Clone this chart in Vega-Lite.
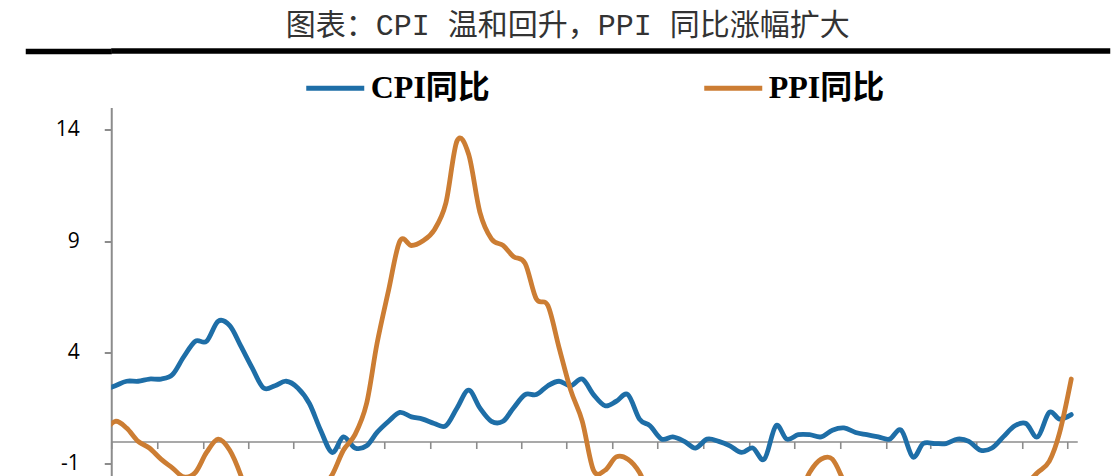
{
  "$schema": "https://vega.github.io/schema/vega-lite/v6.json",
  "padding": {"left": 22.25, "top": 11, "right": 9, "bottom": 0},
  "columns": 1,
  "align": "none",
  "spacing": 53.5,
  "config": {"view": {"stroke": null}},
  "concat": [
    {
      "width": 999,
      "height": 6,
      "title": {
        "text": "图表：CPI 温和回升，PPI 同比涨幅扩大",
        "font": "Liberation Mono, Noto Sans CJK SC",
        "fontSize": 30,
        "fontWeight": "normal",
        "color": "#333333",
        "anchor": "middle",
        "frame": "bounds",
        "baseline": "alphabetic",
        "offset": -17
      },
      "data": {"values": [{}]},
      "mark": {"type": "rule", "color": "#000000", "strokeWidth": 5.5},
      "encoding": {
        "y": {
          "datum": 0,
          "type": "quantitative",
          "scale": {"domain": [-1, 1]},
          "axis": {
            "title": null,
            "values": [0],
            "labels": false,
            "domain": false,
            "grid": false,
            "tickSize": 86,
            "tickColor": "#000000",
            "tickWidth": 5.5,
            "tickCap": "butt"
          }
        }
      }
    },
    {
      "width": 966,
      "height": 369,
      "data": {
        "values": [
          {"date": "2019-03-01", "CPI同比": 2.3, "PPI同比": 0.4},
          {"date": "2019-04-01", "CPI同比": 2.5, "PPI同比": 0.9},
          {"date": "2019-05-01", "CPI同比": 2.7, "PPI同比": 0.6},
          {"date": "2019-06-01", "CPI同比": 2.7, "PPI同比": 0.0},
          {"date": "2019-07-01", "CPI同比": 2.8, "PPI同比": -0.3},
          {"date": "2019-08-01", "CPI同比": 2.8, "PPI同比": -0.8},
          {"date": "2019-09-01", "CPI同比": 3.0, "PPI同比": -1.2},
          {"date": "2019-10-01", "CPI同比": 3.8, "PPI同比": -1.6},
          {"date": "2019-11-01", "CPI同比": 4.5, "PPI同比": -1.4},
          {"date": "2019-12-01", "CPI同比": 4.5, "PPI同比": -0.5},
          {"date": "2020-01-01", "CPI同比": 5.4, "PPI同比": 0.1},
          {"date": "2020-02-01", "CPI同比": 5.2, "PPI同比": -0.4},
          {"date": "2020-03-01", "CPI同比": 4.3, "PPI同比": -1.5},
          {"date": "2020-04-01", "CPI同比": 3.3, "PPI同比": -3.1},
          {"date": "2020-05-01", "CPI同比": 2.4, "PPI同比": -3.7},
          {"date": "2020-06-01", "CPI同比": 2.5, "PPI同比": -3.0},
          {"date": "2020-07-01", "CPI同比": 2.7, "PPI同比": -2.4},
          {"date": "2020-08-01", "CPI同比": 2.4, "PPI同比": -2.0},
          {"date": "2020-09-01", "CPI同比": 1.7, "PPI同比": -2.1},
          {"date": "2020-10-01", "CPI同比": 0.5, "PPI同比": -2.1},
          {"date": "2020-11-01", "CPI同比": -0.5, "PPI同比": -1.5},
          {"date": "2020-12-01", "CPI同比": 0.2, "PPI同比": -0.4},
          {"date": "2021-01-01", "CPI同比": -0.3, "PPI同比": 0.3},
          {"date": "2021-02-01", "CPI同比": -0.2, "PPI同比": 1.7},
          {"date": "2021-03-01", "CPI同比": 0.4, "PPI同比": 4.4},
          {"date": "2021-04-01", "CPI同比": 0.9, "PPI同比": 6.8},
          {"date": "2021-05-01", "CPI同比": 1.3, "PPI同比": 9.0},
          {"date": "2021-06-01", "CPI同比": 1.1, "PPI同比": 8.8},
          {"date": "2021-07-01", "CPI同比": 1.0, "PPI同比": 9.0},
          {"date": "2021-08-01", "CPI同比": 0.8, "PPI同比": 9.5},
          {"date": "2021-09-01", "CPI同比": 0.7, "PPI同比": 10.7},
          {"date": "2021-10-01", "CPI同比": 1.5, "PPI同比": 13.5},
          {"date": "2021-11-01", "CPI同比": 2.3, "PPI同比": 12.9},
          {"date": "2021-12-01", "CPI同比": 1.5, "PPI同比": 10.3},
          {"date": "2022-01-01", "CPI同比": 0.9, "PPI同比": 9.1},
          {"date": "2022-02-01", "CPI同比": 0.9, "PPI同比": 8.8},
          {"date": "2022-03-01", "CPI同比": 1.5, "PPI同比": 8.3},
          {"date": "2022-04-01", "CPI同比": 2.1, "PPI同比": 8.0},
          {"date": "2022-05-01", "CPI同比": 2.1, "PPI同比": 6.4},
          {"date": "2022-06-01", "CPI同比": 2.5, "PPI同比": 6.1},
          {"date": "2022-07-01", "CPI同比": 2.7, "PPI同比": 4.2},
          {"date": "2022-08-01", "CPI同比": 2.5, "PPI同比": 2.3},
          {"date": "2022-09-01", "CPI同比": 2.8, "PPI同比": 0.9},
          {"date": "2022-10-01", "CPI同比": 2.1, "PPI同比": -1.3},
          {"date": "2022-11-01", "CPI同比": 1.6, "PPI同比": -1.3},
          {"date": "2022-12-01", "CPI同比": 1.8, "PPI同比": -0.7},
          {"date": "2023-01-01", "CPI同比": 2.1, "PPI同比": -0.8},
          {"date": "2023-02-01", "CPI同比": 1.0, "PPI同比": -1.4},
          {"date": "2023-03-01", "CPI同比": 0.7, "PPI同比": -2.5},
          {"date": "2023-04-01", "CPI同比": 0.1, "PPI同比": -3.6},
          {"date": "2023-05-01", "CPI同比": 0.2, "PPI同比": -4.6},
          {"date": "2023-06-01", "CPI同比": 0.0, "PPI同比": -5.4},
          {"date": "2023-07-01", "CPI同比": -0.3, "PPI同比": -4.4},
          {"date": "2023-08-01", "CPI同比": 0.1, "PPI同比": -3.0},
          {"date": "2023-09-01", "CPI同比": 0.0, "PPI同比": -2.5},
          {"date": "2023-10-01", "CPI同比": -0.2, "PPI同比": -2.6},
          {"date": "2023-11-01", "CPI同比": -0.5, "PPI同比": -3.0},
          {"date": "2023-12-01", "CPI同比": -0.3, "PPI同比": -2.7},
          {"date": "2024-01-01", "CPI同比": -0.8, "PPI同比": -2.5},
          {"date": "2024-02-01", "CPI同比": 0.7, "PPI同比": -2.7},
          {"date": "2024-03-01", "CPI同比": 0.1, "PPI同比": -2.8},
          {"date": "2024-04-01", "CPI同比": 0.3, "PPI同比": -2.5},
          {"date": "2024-05-01", "CPI同比": 0.3, "PPI同比": -1.4},
          {"date": "2024-06-01", "CPI同比": 0.2, "PPI同比": -0.8},
          {"date": "2024-07-01", "CPI同比": 0.5, "PPI同比": -0.8},
          {"date": "2024-08-01", "CPI同比": 0.6, "PPI同比": -1.8},
          {"date": "2024-09-01", "CPI同比": 0.4, "PPI同比": -2.8},
          {"date": "2024-10-01", "CPI同比": 0.3, "PPI同比": -2.9},
          {"date": "2024-11-01", "CPI同比": 0.2, "PPI同比": -2.5},
          {"date": "2024-12-01", "CPI同比": 0.1, "PPI同比": -2.3},
          {"date": "2025-01-01", "CPI同比": 0.5, "PPI同比": -2.3},
          {"date": "2025-02-01", "CPI同比": -0.7, "PPI同比": -2.2},
          {"date": "2025-03-01", "CPI同比": -0.1, "PPI同比": -2.5},
          {"date": "2025-04-01", "CPI同比": -0.1, "PPI同比": -2.7},
          {"date": "2025-05-01", "CPI同比": -0.1, "PPI同比": -3.3},
          {"date": "2025-06-01", "CPI同比": 0.1, "PPI同比": -3.6},
          {"date": "2025-07-01", "CPI同比": 0.0, "PPI同比": -3.6},
          {"date": "2025-08-01", "CPI同比": -0.4, "PPI同比": -2.9},
          {"date": "2025-09-01", "CPI同比": -0.3, "PPI同比": -2.3},
          {"date": "2025-10-01", "CPI同比": 0.2, "PPI同比": -2.1},
          {"date": "2025-11-01", "CPI同比": 0.7, "PPI同比": -2.2},
          {"date": "2025-12-01", "CPI同比": 0.8, "PPI同比": -1.9},
          {"date": "2026-01-01", "CPI同比": 0.2, "PPI同比": -1.4},
          {"date": "2026-02-01", "CPI同比": 1.3, "PPI同比": -0.9},
          {"date": "2026-03-01", "CPI同比": 1.0, "PPI同比": 0.4},
          {"date": "2026-04-01", "CPI同比": 1.2, "PPI同比": 2.8}
        ]
      },
      "transform": [
        {"fold": ["CPI同比", "PPI同比"], "as": ["series", "value"]}
      ],
      "encoding": {
        "x": {
          "field": "date",
          "type": "temporal",
          "scale": {
            "domain": [
              {"year": 2019, "month": 3, "date": 21},
              {"year": 2026, "month": 4, "date": 17}
            ]
          },
          "axis": {
            "title": null,
            "labels": false,
            "grid": false,
            "offset": -35,
            "domainColor": "#8c8c8c",
            "domainWidth": 1.6,
            "tickColor": "#8c8c8c",
            "tickWidth": 1.6,
            "tickSize": 7,
            "values": [
              {"year": 2019, "month": 3, "date": 21},
              {"year": 2019, "month": 7, "date": 21},
              {"year": 2019, "month": 11, "date": 21},
              {"year": 2020, "month": 3, "date": 21},
              {"year": 2020, "month": 7, "date": 21},
              {"year": 2020, "month": 11, "date": 21},
              {"year": 2021, "month": 3, "date": 21},
              {"year": 2021, "month": 7, "date": 21},
              {"year": 2021, "month": 11, "date": 21},
              {"year": 2022, "month": 3, "date": 21},
              {"year": 2022, "month": 7, "date": 21},
              {"year": 2022, "month": 11, "date": 21},
              {"year": 2023, "month": 3, "date": 21},
              {"year": 2023, "month": 7, "date": 21},
              {"year": 2023, "month": 11, "date": 21},
              {"year": 2024, "month": 3, "date": 21},
              {"year": 2024, "month": 7, "date": 21},
              {"year": 2024, "month": 11, "date": 21},
              {"year": 2025, "month": 3, "date": 21},
              {"year": 2025, "month": 7, "date": 21},
              {"year": 2025, "month": 11, "date": 21},
              {"year": 2026, "month": 3, "date": 21}
            ]
          }
        },
        "y": {
          "field": "value",
          "type": "quantitative",
          "scale": {"domain": [-1.58, 15], "nice": false, "zero": false},
          "axis": {
            "title": null,
            "grid": false,
            "values": [-1, 4, 9, 14],
            "labelExpr": "'' + datum.value",
            "domainColor": "#8c8c8c",
            "domainWidth": 2,
            "tickColor": "#8c8c8c",
            "tickWidth": 2,
            "tickSize": 7,
            "labelPadding": 25,
            "labelFont": "Open Sans",
            "labelFontSize": 21,
            "labelColor": "#000000",
            "minExtent": 86,
            "maxExtent": 86
          }
        },
        "color": {
          "field": "series",
          "type": "nominal",
          "scale": {"domain": ["CPI同比", "PPI同比"], "range": ["#1e6ea7", "#cc7d33"]},
          "legend": {
            "title": null,
            "orient": "none",
            "legendX": 192.5,
            "legendY": 8.5,
            "direction": "horizontal",
            "columns": 2,
            "columnPadding": 203,
            "symbolType": "stroke",
            "symbolSize": 3364,
            "symbolStrokeWidth": 5,
            "labelOffset": 4,
            "labelFont": "Liberation Serif, Noto Sans CJK SC",
            "labelFontSize": 32,
            "labelFontWeight": "bold",
            "labelColor": "#000000",
            "labelLimit": 400
          }
        }
      },
      "layer": [
        {
          "transform": [{"filter": "datum.series === 'CPI同比'"}],
          "mark": {"type": "line", "interpolate": "cardinal", "strokeWidth": 4.8, "strokeCap": "round", "strokeJoin": "round", "clip": true}
        },
        {
          "transform": [{"filter": "datum.series === 'PPI同比'"}],
          "mark": {"type": "line", "interpolate": "cardinal", "strokeWidth": 4.8, "strokeCap": "round", "strokeJoin": "round", "clip": true}
        }
      ]
    }
  ]
}
